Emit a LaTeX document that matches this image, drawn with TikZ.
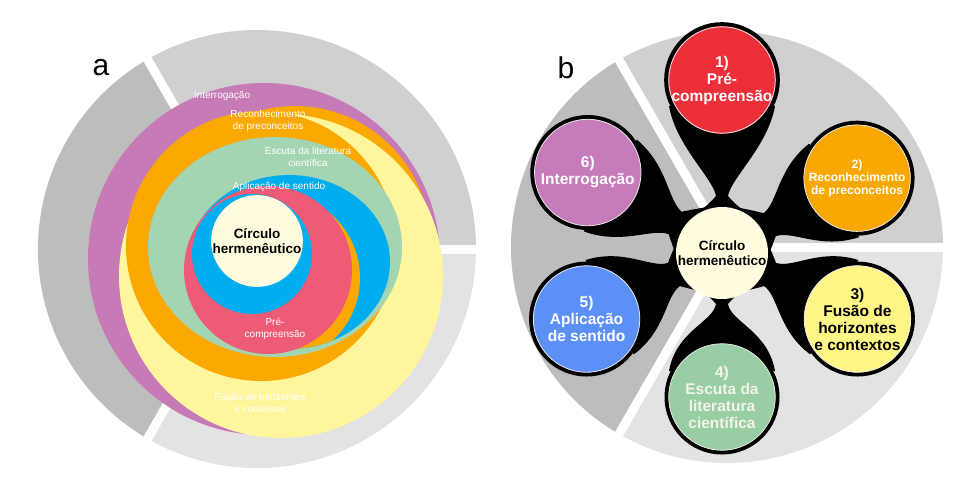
\documentclass[tikz,border=0pt]{standalone}
\usepackage{fontspec}
\setmainfont{Liberation Sans}
\usetikzlibrary{calc}
\definecolor{ringTop}{HTML}{D0D0D1}
\definecolor{ringLeft}{HTML}{BDBDBD}
\definecolor{ringLow}{HTML}{E3E3E4}
\definecolor{spPurple}{HTML}{C77BB6}
\definecolor{spYellow}{HTML}{FFF59D}
\definecolor{spOrange}{HTML}{FBA900}
\definecolor{spGreen}{HTML}{A3D5B2}
\definecolor{spBlue}{HTML}{00ADEE}
\definecolor{spPink}{HTML}{EE5B77}
\definecolor{spCream}{HTML}{FFFCE0}
\definecolor{lbRed}{HTML}{EC2F39}
\definecolor{lbOrange}{HTML}{F9A703}
\definecolor{lbYellow}{HTML}{FFF685}
\definecolor{lbGreen}{HTML}{99CDA3}
\definecolor{lbBlue}{HTML}{5D90F6}
\definecolor{lbPurple}{HTML}{C67BBA}
\definecolor{lbPale}{HTML}{F4F4E8}

\begin{document}
\begin{tikzpicture}[x=1pt, y=-1pt,
        gap/.style={white, line width=9pt},
        stage/.style={text=white, align=center, font=\fontsize{10}{12}\selectfont},
        core/.style={circle, fill=spCream, inner sep=0pt, align=center, font=\bfseries\fontsize{13.5}{15}\selectfont},
        lobe/.style={circle, draw=black, line width=4pt, minimum size=111pt, inner sep=0pt, align=center},
        panel/.style={font=\fontsize{30}{30}\selectfont}
    ]
    \useasboundingbox (0,0) rectangle (973,485);

    % grey ring split in three sectors
    \coordinate (ca) at (257,249);
    \coordinate (cb) at (727,247);
    \foreach \c/\r in {ca/219, cb/216} {
        \fill[ringTop] (\c) -- ++(0:\r pt) arc[start angle=0, end angle=120, radius=\r pt] -- cycle;
        \fill[ringLeft] (\c) -- ++(120:\r pt) arc[start angle=120, end angle=240, radius=\r pt] -- cycle;
        \fill[ringLow] (\c) -- ++(240:\r pt) arc[start angle=240, end angle=360, radius=\r pt] -- cycle;
        \foreach \a in {0, 120, 240}
            \draw[gap] (\c) -- ++(\a:235pt);
    }

    % spiral of stages (a)
    \fill[spPurple] (264,259) circle[radius=176pt];
    \fill[spOrange] (295,241) circle[radius=135pt];
    \fill[spYellow] (281,276) circle[radius=162pt];
    \fill[spOrange] (261,246) circle[radius=135pt];
    \fill[spGreen] (275,247) ellipse[x radius=127pt, y radius=110pt];
    \fill[spBlue] (289,262) ellipse[x radius=101pt, y radius=87pt];
    \begin{scope}
        \clip (289,262) ellipse[x radius=101pt, y radius=87pt];
        \fill[spOrange] (275,278) circle[radius=85pt];
    \end{scope}
    \fill[spPink] (268,270) circle[radius=84pt];
    \fill[spBlue] (252,254) circle[radius=60pt];
    \node[core, minimum size=88pt] (core a) at (257,241) {Círculo\\hermenêutico};

    \node[stage] (interrogacao) at (222,96) {Interrogação};
    \node[stage] (reconhecimento) at (268,121) {Reconhecimento\\de preconceitos};
    \node[stage] (escuta) at (308,157) {Escuta da literatura\\científica};
    \node[stage] (aplicacao) at (279,187) {Aplicação de sentido};
    \node[stage] (precomp) at (275,329) {Pré-\\compreensão};
    \node[stage] (fusao) at (260,403) {Fusão de horizontes\\e contextos};
    \node[panel] (label a) at (101,68) {a};

    % stages around the centre (b)
    \coordinate (hub) at (722,250);
    \foreach \ang/\dist/\nw/\col/\txt/\fs/\ls/\lbl [count=\i] in {
            90/170/6/lbRed/white/15.5/17/{1)\\Pré-\\compreensão},
            28/153/13/lbOrange/white/12/13/{2)\\Reconhecimento\\de preconceitos},
            -27/152/13/lbYellow/black/15.5/17/{3)\\Fusão de\\horizontes\\e contextos},
            -90/147/6/lbGreen/lbPale/15.5/17/{4)\\Escuta da\\literatura\\científica},
            -153/152/13/lbBlue/white/15.5/17/{5)\\Aplicação\\de sentido},
            150/155/13/lbPurple/white/15.5/17/{6)\\Interrogação}} {
        \begin{scope}[shift={(hub)}, rotate=\ang]
            \fill[black] (34,-30) .. controls (45,{-\nw-8}) .. (54,-\nw)
                .. controls (72,{-\nw-3}) and ({\dist-66},-46) .. ({\dist-26},-53)
                -- ({\dist-26},53)
                .. controls ({\dist-66},46) and (72,{\nw+3}) .. (54,\nw)
                .. controls (45,{\nw+8}) .. (34,30) -- cycle;
            \node[lobe, fill=\col, text=\txt, font=\bfseries\fontsize{\fs}{\ls}\selectfont] (lobe \i) at (\dist,0) {\lbl};
            \draw[white!80!gray, line width=0.8pt] (lobe \i.center) circle[radius=53.2pt];
        \end{scope}
    }
    \node[core, minimum size=92pt] (core b) at (722,253) {Círculo\\hermenêutico};
    \node[panel] (label b) at (566,68) {b};
\end{tikzpicture}
\end{document}
